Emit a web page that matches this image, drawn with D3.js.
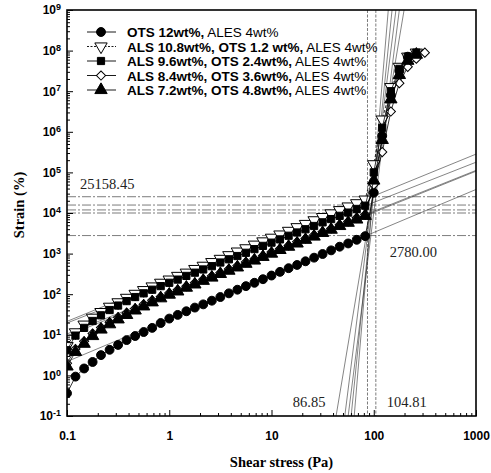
<!DOCTYPE html>
<html>
<head>
<meta charset="utf-8">
<script src="https://cdn.jsdelivr.net/npm/d3@7"></script>
<style>
  body { margin: 0; background: #fff; }
</style>
</head>
<body>
<div id="chart"></div>
<script>
// shear stress sweep (Pa), shared by every sample
const stress = [0.1, 0.121, 0.147, 0.178, 0.215, 0.261, 0.316, 0.383, 0.464, 0.562, 0.681, 0.825,
  1, 1.21, 1.47, 1.78, 2.15, 2.61, 3.16, 3.83, 4.64, 5.62, 6.81, 8.25,
  10, 12.1, 14.7, 17.8, 21.5, 26.1, 31.6, 38.3, 46.4, 56.2, 68.1, 82.5,
  100, 121, 147, 178, 215, 261, 316];

// strain (%) per sample
const strainOTS12 = [0.363, 0.933, 1.48, 2.14, 3.16, 4.27, 5.62, 7.41, 9.33, 11.7, 14.8, 19.5,
  25.1, 30.9, 38.0, 46.8, 56.2, 69.2, 85.1, 105, 129, 158, 191, 234,
  288, 355, 437, 525, 646, 794, 977, 1202, 1479, 1778, 2188, 2692,
  31600, 794000, 7.94e6, 3.16e7, 7.08e7];
const strainALS108 = [5.25, 11.5, 17.8, 26.3, 36.3, 49.0, 63.1, 81.3, 102, 126, 155, 191,
  229, 282, 339, 417, 501, 617, 741, 912, 1122, 1349, 1660, 1995,
  2455, 2951, 3631, 4467, 5370, 6607, 7943, 9772, 11750, 14450, 17380, 21380,
  158500, 2.0e6, 1.26e7, 3.98e7, 7.08e7, 8.91e7];
const strainALS96 = [4.17, 9.55, 14.8, 21.9, 30.2, 40.7, 52.5, 67.6, 85.1, 105, 129, 158,
  191, 229, 282, 339, 407, 490, 603, 724, 871, 1047, 1288, 1549,
  1862, 2239, 2754, 3311, 3981, 4786, 5888, 7079, 8511, 10230, 12590, 15140,
  100000, 1.26e6, 1.0e7, 3.55e7, 7.08e7, 8.91e7];
const strainALS84 = [2.00, 4.47, 6.92, 10.7, 15.1, 20.4, 26.9, 34.7, 44.7, 56.2, 70.8, 87.1,
  107, 129, 158, 191, 234, 282, 339, 417, 501, 617, 741, 891,
  1096, 1318, 1585, 1950, 2344, 2884, 3467, 4169, 5129, 6166, 7586, 9120,
  50100, 316000, 3.16e6, 1.58e7, 3.98e7, 6.31e7, 8.91e7];
const strainALS72 = [1.66, 3.80, 6.03, 9.33, 13.5, 18.2, 24.0, 30.9, 39.8, 50.1, 63.1, 79.4,
  97.7, 117, 145, 174, 214, 257, 316, 380, 457, 562, 676, 832,
  1000, 1230, 1479, 1778, 2188, 2630, 3236, 3890, 4786, 5754, 6918, 8511,
  63100, 631000, 6.31e6, 2.51e7, 5.62e7, 7.94e7];

const seriesBold = ["OTS 12wt%,", "ALS 10.8wt%, OTS 1.2 wt%,", "ALS 9.6wt%, OTS 2.4wt%,",
  "ALS 8.4wt%, OTS 3.6wt%,", "ALS 7.2wt%, OTS 4.8wt%,"];
const seriesTail = "ALES 4wt%";
const series = [strainOTS12, strainALS108, strainALS96, strainALS84, strainALS72];

// tangent construction lines
const lowTanStart = [2.19, 21.4, 19.5, 10.5, 9.5];          // strain at 0.1 Pa
const lowTanEnd = [38000, 282000, 178000, 112000, 107000];  // strain at 1000 Pa
const highTanBottom = [52.1, 56.2, 60.1, 42.8, 64.4];       // stress at strain 0.1 %
const highTanTop = [164.8, 177.8, 151, 198, 138.7];         // stress at strain 1e9 %
const yieldStrain = [2780.00, 25158.45, 15700, 11900, 10000];
const yieldStress = [86.85, 104.81];

const xTicks = [0.1, 1, 10, 100, 1000];
const yTicks = [0.1, 1, 10, 100, 1e3, 1e4, 1e5, 1e6, 1e7, 1e8, 1e9];

var W = 491, H = 473;
var padL = 67, padR = 476, padT = 10, padB = 416;

var x = d3.scaleLog().domain([0.1, 1000]).range([padL, padR]);
var y = d3.scaleLog().domain([0.1, 1e9]).range([padB, padT]);

var svg = d3.select("#chart").append("svg")
  .attr("width", W)
  .attr("height", H)
  .style("font-family", "'Liberation Sans', Arial, sans-serif");

svg.append("clipPath").attr("id", "plot")
  .append("rect")
  .attr("x", padL).attr("y", padT)
  .attr("width", padR - padL).attr("height", padB - padT);

var guides = svg.append("g").attr("clip-path", "url(#plot)");

// horizontal yield strain lines
guides.selectAll(".hy")
  .data(yieldStrain)
  .enter().append("line")
  .attr("x1", padL).attr("x2", padR)
  .attr("y1", d => y(d)).attr("y2", d => y(d))
  .attr("stroke", "#444")
  .attr("stroke-width", 0.7)
  .attr("stroke-dasharray", "9,2,2,2");

// vertical yield stress lines
guides.selectAll(".vy")
  .data(yieldStress)
  .enter().append("line")
  .attr("x1", d => x(d)).attr("x2", d => x(d))
  .attr("y1", padT).attr("y2", padB)
  .attr("stroke", "#444")
  .attr("stroke-width", 0.7)
  .attr("stroke-dasharray", "3,1.5");

// tangent lines
guides.selectAll(".lt")
  .data(lowTanStart)
  .enter().append("line")
  .attr("x1", x(0.1)).attr("x2", x(1000))
  .attr("y1", d => y(d)).attr("y2", (d, i) => y(lowTanEnd[i]))
  .attr("stroke", "#333")
  .attr("stroke-width", 0.6);

guides.selectAll(".ht")
  .data(highTanBottom)
  .enter().append("line")
  .attr("x1", d => x(d)).attr("x2", (d, i) => x(highTanTop[i]))
  .attr("y1", y(0.1)).attr("y2", y(1e9))
  .attr("stroke", "#333")
  .attr("stroke-width", 0.6);

// axes
var xMinor = [], yMinor = [];
[0.1, 1, 10, 100].forEach(function (d) { for (var i = 2; i < 10; i++) xMinor.push(d * i); });
yTicks.slice(0, -1).forEach(function (d) { for (var i = 2; i < 10; i++) yMinor.push(d * i); });

svg.append("g").attr("transform", "translate(0," + padB + ")")
  .call(d3.axisBottom(x).tickValues(xMinor).tickSize(-3).tickFormat(""))
  .call(g => g.select(".domain").remove());

var xAxis = svg.append("g").attr("transform", "translate(0," + padB + ")")
  .call(d3.axisBottom(x).tickValues(xTicks).tickSize(-6).tickPadding(15).tickFormat(d => d))
  .call(g => g.select(".domain").remove());

svg.append("g").attr("transform", "translate(" + padL + ",0)")
  .call(d3.axisLeft(y).tickValues(yMinor).tickSize(-3).tickFormat(""))
  .call(g => g.select(".domain").remove());

var yAxis = svg.append("g").attr("transform", "translate(" + padL + ",0)")
  .call(d3.axisLeft(y).tickValues(yTicks).tickSize(-6).tickPadding(6).tickFormat(""))
  .call(g => g.select(".domain").remove());

svg.selectAll(".tick line").attr("stroke", "#000").attr("stroke-width", 1);

xAxis.selectAll("text")
  .style("font-size", "12px")
  .style("font-weight", "bold")
  .attr("fill", "#000");

yAxis.selectAll(".tick text").each(function (d) {
  var t = d3.select(this)
    .style("font-size", "12px")
    .style("font-weight", "bold")
    .attr("fill", "#000");
  t.append("tspan").text("10");
  t.append("tspan").text(Math.round(Math.log10(d)))
    .attr("dy", "-0.45em")
    .style("font-size", "9px");
});

// frame
svg.append("rect")
  .attr("x", padL).attr("y", padT)
  .attr("width", padR - padL).attr("height", padB - padT)
  .attr("fill", "none")
  .attr("stroke", "#000")
  .attr("stroke-width", 1.6);

// markers
var symbols = [
  { type: d3.symbolCircle, size: 62, fill: "#000", rot: 0 },
  { type: d3.symbolTriangle, size: 66, fill: "#fff", rot: 180 },
  { type: d3.symbolSquare, size: 52, fill: "#000", rot: 0 },
  { type: d3.symbolSquare, size: 42, fill: "#fff", rot: 45 },
  { type: d3.symbolTriangle, size: 66, fill: "#000", rot: 0 }
];

var line = d3.line()
  .x((d, i) => x(stress[i]))
  .y(d => y(d));

var plot = svg.append("g").attr("clip-path", "url(#plot)");

series.forEach(function (s, si) {
  var sym = symbols[si];
  plot.append("path")
    .attr("d", line(s))
    .attr("fill", "none")
    .attr("stroke", "#000")
    .attr("stroke-width", 0.8)
    .attr("stroke-dasharray", si == 1 ? "3,2" : null);

  plot.append("g").selectAll("path")
    .data(s)
    .enter().append("path")
    .attr("d", d3.symbol().type(sym.type).size(sym.size))
    .attr("transform", (d, i) => "translate(" + x(stress[i]) + "," + y(d) + ") rotate(" + sym.rot + ")")
    .attr("fill", sym.fill)
    .attr("stroke", "#000")
    .attr("stroke-width", 1);
});

// legend
var legend = svg.append("g");
seriesBold.forEach(function (name, i) {
  var ly = 32 + i * 14.5;
  var sym = symbols[i];
  legend.append("line")
    .attr("x1", 87).attr("x2", 116)
    .attr("y1", ly).attr("y2", ly)
    .attr("stroke", "#000")
    .attr("stroke-width", 0.9)
    .attr("stroke-dasharray", i == 1 ? "2,1.5" : null);
  legend.append("path")
    .attr("d", d3.symbol().type(sym.type).size(sym.size))
    .attr("transform", "translate(101," + ly + ") rotate(" + sym.rot + ")")
    .attr("fill", sym.fill)
    .attr("stroke", "#000")
    .attr("stroke-width", 1);
  var t = legend.append("text")
    .attr("x", 127).attr("y", ly + 5)
    .style("font-size", "13.5px")
    .attr("fill", "#000");
  t.append("tspan").text(name).style("font-weight", "bold");
  t.append("tspan").text(" " + seriesTail);
});

// value labels
var serif = "'Liberation Serif', 'Times New Roman', serif";
var lab = svg.append("g")
  .style("font-family", serif)
  .style("font-size", "14.5px")
  .attr("fill", "#222");

lab.append("text")
  .attr("x", padL + 13).attr("y", y(d3.max(yieldStrain)) - 8)
  .text(d3.max(yieldStrain).toFixed(2));
lab.append("text")
  .attr("x", x(d3.max(yieldStress)) + 14).attr("y", y(d3.min(yieldStrain)) + 21)
  .text(d3.min(yieldStrain).toFixed(2));
lab.append("text")
  .attr("x", x(d3.min(yieldStress)) - 42).attr("y", padB - 9)
  .attr("text-anchor", "end")
  .text(d3.min(yieldStress).toFixed(2));
lab.append("text")
  .attr("x", x(d3.max(yieldStress)) + 11).attr("y", padB - 9)
  .text(d3.max(yieldStress).toFixed(2));

// axis titles
svg.append("text")
  .attr("x", (padL + padR) / 2 + 10).attr("y", 467)
  .attr("text-anchor", "middle")
  .style("font-family", serif)
  .style("font-weight", "bold")
  .style("font-size", "14.5px")
  .text("Shear stress (Pa)");

svg.append("text")
  .attr("transform", "translate(24," + 205 + ") rotate(-90)")
  .attr("text-anchor", "middle")
  .style("font-family", serif)
  .style("font-weight", "bold")
  .style("font-size", "14.5px")
  .text("Strain (%)");
</script>
</body>
</html>
